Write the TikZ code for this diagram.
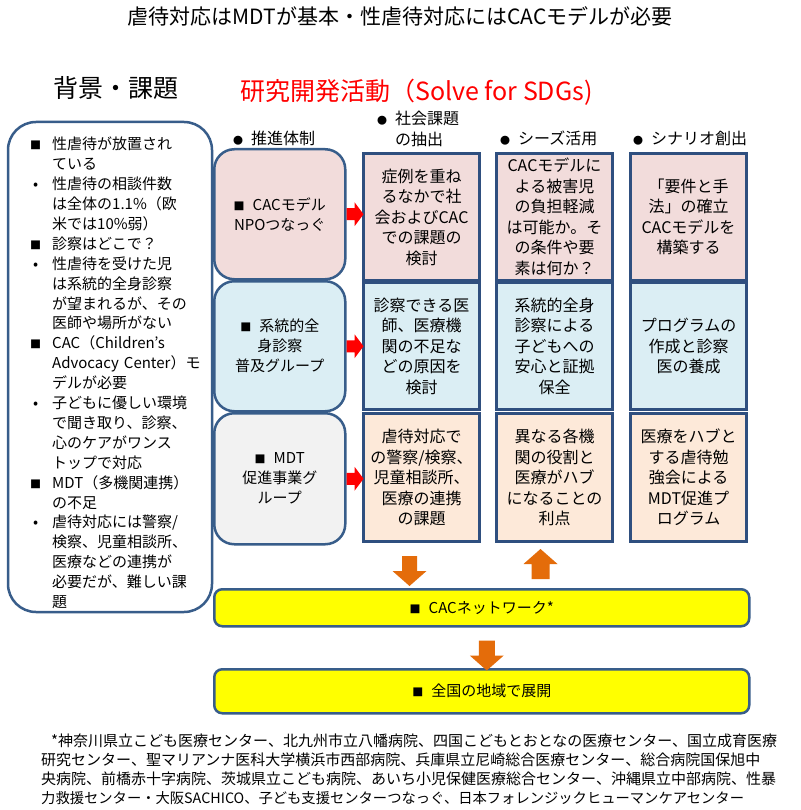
\documentclass[tikz,border=0pt]{standalone}
\usepackage{fontspec}
\setmainfont{Noto Sans CJK JP}
\setsansfont{Noto Sans CJK JP}
\usetikzlibrary{calc}
\definecolor{navy}{HTML}{385D8A}
\definecolor{navyd}{HTML}{2F4F7F}
\definecolor{pinkf}{HTML}{F2DCDB}
\definecolor{bluef}{HTML}{DBEEF4}
\definecolor{grayf}{HTML}{F2F2F2}
\definecolor{peachf}{HTML}{FDE9D9}
\definecolor{orangea}{HTML}{E46C0A}
\definecolor{redt}{HTML}{FF0000}
\definecolor{yell}{HTML}{FFFF00}
\newcommand\sqb{\leavevmode\llap{{\fontsize{11}{11}\selectfont ■}\hspace{11pt}}}
\newcommand\dtb{\leavevmode\llap{•\hspace{14pt}}}
\newcommand\sqm{{\fontsize{11}{11}\selectfont ■}\hspace{8pt}}
\newcommand\hbul{{\fontsize{10}{10}\selectfont ●}\hspace{8pt}}
\begin{document}
\begin{tikzpicture}[x=1pt,y=-1pt,
  grp/.style={draw=navy, line width=2.5pt, rounded corners=20pt, minimum width=131pt, anchor=north west, align=center, font=\fontsize{15}{20}\selectfont, inner sep=0pt},
  colbox/.style={draw=navyd, line width=3pt, minimum width=116pt, anchor=north west, align=center, font=\fontsize{16}{20.5}\selectfont, inner sep=0pt},
  ybox/.style={draw=navy, line width=2.5pt, fill=yell, rounded corners=8pt, minimum width=535pt, anchor=north west, font=\fontsize{15}{18}\selectfont},
  hdr/.style={anchor=west, inner sep=0pt, font=\fontsize{16}{21}\selectfont, align=left},
  foot/.style={anchor=west, inner sep=0pt, font=\fontsize{15}{19}\selectfont},
  redarrow/.style={fill=redt},
  orarrow/.style={fill=orangea}
]
\useasboundingbox (0,0) rectangle (800,810);
\fill[white] (0,0) rectangle (800,810);

% titles
\node[inner sep=0pt, font=\fontsize{21}{21}\selectfont] (title) at (400,16) {虐待対応はMDTが基本・性虐待対応にはCACモデルが必要};
\node[inner sep=0pt, font=\fontsize{25}{25}\selectfont] (bgt) at (116,88) {背景・課題};
\node[inner sep=0pt, anchor=west, text=redt, font=\fontsize{25}{25}\selectfont] (rdt) at (240,92) {研究開発活動（Solve for SDGs)};

% left background box
\draw[draw=navy, line width=2.5pt, rounded corners=28pt] (8,122) rectangle (212,612);
\node[anchor=north west, inner sep=0pt, text width=158pt, align=left, font=\fontsize{15}{19.9}\selectfont] (bgtext) at (52,137) {%
\sqb 性虐待が放置され\\
ている\\
\dtb 性虐待の相談件数\\
は全体の1.1\%（欧\\
米では10\%弱）\\
\sqb 診察はどこで？\\
\dtb 性虐待を受けた児\\
は系統的全身診察\\
が望まれるが、その\\
医師や場所がない\\
\sqb CAC（Children’s\\
Advocacy Center）モ\\
デルが必要\\
\dtb 子どもに優しい環境\\
で聞き取り、診察、\\
心のケアがワンス\\
トップで対応\\
\sqb MDT（多機関連携）\\
の不足\\
\dtb 虐待対応には警察/\\
検察、児童相談所、\\
医療などの連携が\\
必要だが、難しい課\\
題};

% column headers
\node[hdr] (h1) at (233,138) {\hbul 推進体制};
\node[hdr] (h2) at (377,129) {\hbul 社会課題\\\hspace*{18pt}の抽出};
\node[hdr] (h3) at (500,138) {\hbul シーズ活用};
\node[hdr] (h4) at (633,138) {\hbul シナリオ創出};

% group boxes
\node[grp, fill=pinkf, minimum height=130pt] (g1) at (213,148) {\sqm CACモデル\\NPOつなっぐ};
\node[grp, fill=bluef, minimum height=130pt] (g2) at (213,280) {\sqm 系統的全\\身診察\\普及グループ};
\node[grp, fill=grayf, minimum height=131pt] (g3) at (213,412) {\sqm MDT\\促進事業グ\\ループ};

% column boxes row 1
\node[colbox, fill=pinkf, minimum height=127pt] (c12) at (362,152) {症例を重ね\\るなかで社\\会およびCAC\\での課題の\\検討};
\node[colbox, fill=pinkf, minimum height=127pt] (c13) at (495,152) {CACモデルに\\よる被害児\\の負担軽減\\は可能か。そ\\の条件や要\\素は何か？};
\node[colbox, fill=pinkf, minimum height=127pt] (c14) at (629,152) {「要件と手\\法」の確立\\CACモデルを\\構築する};
% row 2
\node[colbox, fill=bluef, minimum height=127pt] (c22) at (362,281) {診察できる医\\師、医療機\\関の不足な\\どの原因を\\検討};
\node[colbox, fill=bluef, minimum height=127pt] (c23) at (495,281) {系統的全身\\診察による\\子どもへの\\安心と証拠\\保全};
\node[colbox, fill=bluef, minimum height=127pt] (c24) at (629,281) {プログラムの\\作成と診察\\医の養成};
% row 3
\node[colbox, fill=peachf, minimum height=128pt] (c32) at (362,412) {虐待対応で\\の警察/検察、\\児童相談所、\\医療の連携\\の課題};
\node[colbox, fill=peachf, minimum height=128pt] (c33) at (495,412) {異なる各機\\関の役割と\\医療がハブ\\になることの\\利点};
\node[colbox, fill=peachf, minimum height=128pt] (c34) at (629,412) {医療をハブと\\する虐待勉\\強会による\\MDT促進プ\\ログラム};

% yellow boxes
\node[ybox, minimum height=37pt] (net) at (213,588) {\sqm CACネットワーク*};
\node[ybox, minimum height=44pt] (nat) at (213,668) {\sqm 全国の地域で展開};

% red arrows
\foreach \g in {g1,g2,g3}{
  \fill[redarrow] (\g.east) ++(0,-6) -- ++(8,0) -- ++(0,-6) -- ++(9,12) -- ++(-9,12) -- ++(0,-6) -- ++(-8,0) -- cycle;
}

% orange arrows
\path (c32.south) ++(-12,13) coordinate (a1);
\fill[orarrow] (a1) ++(-7.5,0) -- ++(15,0) -- ++(0,15) -- ++(9.5,0) -- ++(-17,15) -- ++(-17,-15) -- ++(9.5,0) -- cycle;
\path (c33.south) ++(-14,36) coordinate (a2);
\fill[orarrow] (a2) ++(-9,0) -- ++(18,0) -- ++(0,-15) -- ++(8,0) -- ++(-17,-15) -- ++(-17,15) -- ++(8,0) -- cycle;
\path (net.south) ++(5,13) coordinate (a3);
\fill[orarrow] (a3) ++(-8,0) -- ++(16,0) -- ++(0,15) -- ++(9,0) -- ++(-17,15) -- ++(-17,-15) -- ++(9,0) -- cycle;

% footnote
\begingroup
\XeTeXlinebreaklocale "ja"
\XeTeXlinebreakskip=0pt plus 2pt
\node[foot] (f1) at (51,741) {\hbox to 731pt{*神奈川県立こども医療センター、北九州市立八幡病院、四国こどもとおとなの医療センター、国立成育医療}};
\node[foot] (f2) at (41,760) {\hbox to 741pt{研究センター、聖マリアンナ医科大学横浜市西部病院、兵庫県立尼崎総合医療センター、総合病院国保旭中}};
\node[foot] (f3) at (41,779) {\hbox to 741pt{央病院、前橋赤十字病院、茨城県立こども病院、あいち小児保健医療総合センター、沖縄県立中部病院、性暴}};
\node[foot, font=\fontsize{14.3}{19}\selectfont] (f4) at (41,798) {力救援センター・大阪SACHICO、子ども支援センターつなっぐ、日本フォレンジックヒューマンケアセンター};
\endgroup
\end{tikzpicture}
\end{document}
